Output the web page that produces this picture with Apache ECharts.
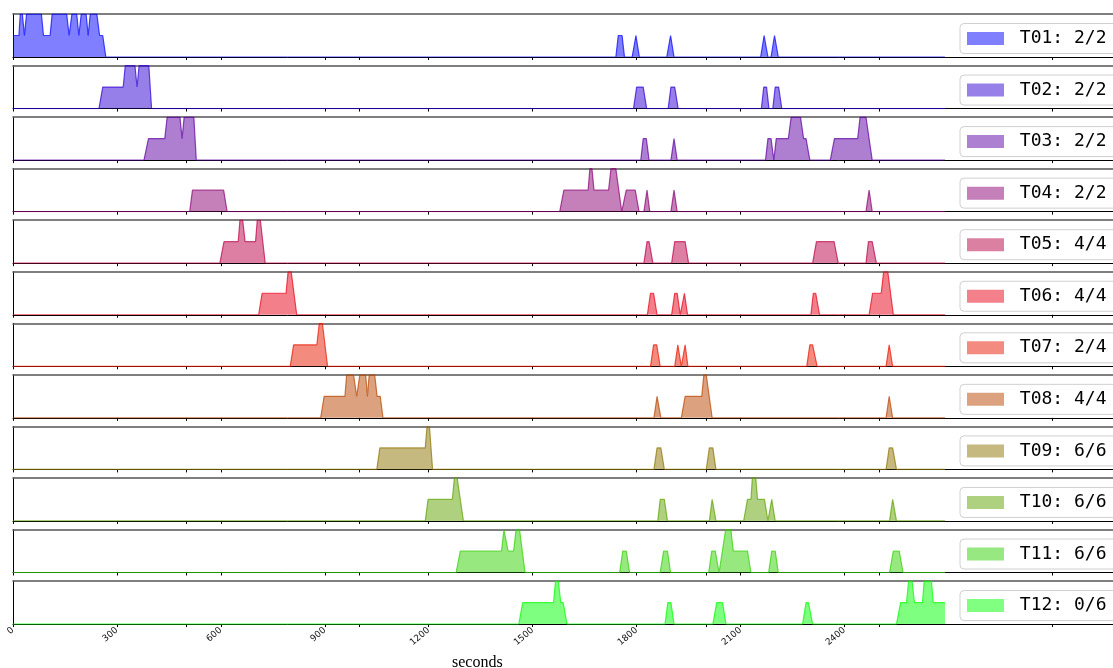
<!DOCTYPE html>
<html>
<head>
<meta charset="utf-8">
<script src="https://cdn.jsdelivr.net/npm/echarts@6/dist/echarts.min.js"></script>
<style>
  html, body { margin: 0; padding: 0; background: #fff; }
  #main { width: 1113px; height: 668px; }
</style>
</head>
<body>
<div id="main"></div>
<script>
// series names as shown in the legends
const names = ['T01: 2/2', 'T02: 2/2', 'T03: 2/2', 'T04: 2/2', 'T05: 4/4', 'T06: 4/4',
  'T07: 2/4', 'T08: 4/4', 'T09: 6/6', 'T10: 6/6', 'T11: 6/6', 'T12: 0/6'];

// x axis tick labels (seconds)
const tickLabels = [0, 300, 600, 900, 1200, 1500, 1800, 2100, 2400];
const tickMarks = [0, 300, 500, 600, 900, 1000, 1200, 1500, 1800, 2000, 2100, 2400, 2500, 3000];

// [seconds, level]
const t01 = [[0,1],[17,1],[21,2],[27,2],[33,1],[39,2],[82,2],[88,1],[107,1],[113,2],[155,2],[162,1],[170,2],[184,2],[190,1],[197,2],[211,2],[217,1],[223,2],[242,2],[250,1],[259,1],[268,0],
  [1740,0],[1747,1],[1758,1],[1765,0],[1787,0],[1798,1],[1808,0],[1887,0],[1898,1],[1908,0],[2158,0],[2168,1],[2179,0],[2188,0],[2198,1],[2209,0],[2690,0]];
const t02 = [[0,0],[248,0],[259,1],[318,1],[324,2],[352,2],[358,1],[364,2],[392,2],[400,0],
  [1791,0],[1800,1],[1819,1],[1829,0],[1891,0],[1899,1],[1910,1],[1920,0],[2160,0],[2167,1],[2175,1],[2182,0],[2193,0],[2200,1],[2210,1],[2219,0],[2690,0]];
const t03 = [[0,0],[378,0],[391,1],[438,1],[445,2],[482,2],[488,1],[494,2],[522,2],[529,0],
  [1812,0],[1819,1],[1828,1],[1836,0],[1899,0],[1908,1],[1917,0],[2172,0],[2179,1],[2188,1],[2196,0],[2203,1],[2238,1],[2246,2],[2273,2],[2282,1],[2289,1],[2300,0],
  [2359,0],[2371,1],[2438,1],[2445,2],[2462,2],[2480,0],[2690,0]];
const t04 = [[0,0],[510,0],[518,1],[608,1],[618,0],[1578,0],[1590,1],[1660,1],[1665,2],[1671,2],[1677,1],[1719,1],[1726,2],[1740,2],[1757,0],[1762,0],[1770,1],[1796,1],[1807,0],
  [1821,0],[1830,1],[1838,0],[1899,0],[1908,1],[1917,0],[2462,0],[2471,1],[2480,0],[2690,0]];
const t05 = [[0,0],[597,0],[609,1],[650,1],[655,2],[663,2],[670,1],[700,1],[705,2],[714,2],[728,0],
  [1821,0],[1830,1],[1836,1],[1847,0],[1901,0],[1910,1],[1940,1],[1950,0],[2308,0],[2319,1],[2370,1],[2382,0],[2462,0],[2469,1],[2480,1],[2492,0],[2690,0]];
const t06 = [[0,0],[709,0],[719,1],[788,1],[794,2],[803,2],[819,0],
  [1831,0],[1840,1],[1849,1],[1859,0],[1901,0],[1910,1],[1917,1],[1926,0],[1931,0],[1938,1],[1947,0],[2303,0],[2310,1],[2317,1],[2328,0],
  [2471,0],[2481,1],[2506,1],[2513,2],[2525,2],[2541,0],[2690,0]];
const t07 = [[0,0],[800,0],[810,1],[877,1],[884,2],[893,2],[908,0],
  [1840,0],[1849,1],[1858,1],[1868,0],[1910,0],[1919,1],[1929,0],[1933,0],[1940,1],[1948,0],[2291,0],[2300,1],[2308,1],[2321,0],[2520,0],[2529,1],[2539,0],[2690,0]];
const t08 = [[0,0],[888,0],[898,1],[958,1],[963,2],[983,2],[992,1],[1001,2],[1018,2],[1023,1],[1028,2],[1044,2],[1051,1],[1060,1],[1068,0],
  [1850,0],[1859,1],[1870,0],[1929,0],[1940,1],[1988,1],[1994,2],[2001,2],[2018,0],[2520,0],[2529,1],[2539,0],[2690,0]];
const t09 = [[0,0],[1050,0],[1059,1],[1190,1],[1195,2],[1202,2],[1211,0],
  [1850,0],[1859,1],[1870,1],[1880,0],[2001,0],[2010,1],[2020,1],[2029,0],[2520,0],[2529,1],[2539,1],[2550,0],[2690,0]];
const t10 = [[0,0],[1190,0],[1198,1],[1268,1],[1274,2],[1282,2],[1300,0],
  [1861,0],[1868,1],[1880,1],[1889,0],[2010,0],[2018,1],[2029,0],[2109,0],[2120,1],[2130,1],[2134,2],[2144,2],[2149,1],[2169,1],[2179,0],[2181,0],[2190,1],[2200,0],
  [2530,0],[2539,1],[2550,0],[2690,0]];
const t11 = [[0,0],[1279,0],[1291,1],[1410,1],[1417,2],[1422,2],[1429,1],[1445,1],[1452,2],[1462,2],[1478,0],
  [1751,0],[1760,1],[1770,1],[1780,0],[1868,0],[1878,1],[1889,1],[1898,0],[2008,0],[2017,1],[2027,1],[2038,0],[2057,2],[2072,2],[2079,1],[2120,1],[2130,0],
  [2181,0],[2190,1],[2200,1],[2209,0],[2530,0],[2541,1],[2558,1],[2569,0],[2690,0]];
const t12 = [[0,0],[1460,0],[1471,1],[1560,1],[1566,2],[1574,2],[1581,1],[1588,1],[1599,0],
  [1882,0],[1890,1],[1899,1],[1908,0],[2020,0],[2031,1],[2048,1],[2058,0],[2279,0],[2289,1],[2296,1],[2308,0],
  [2550,0],[2562,1],[2579,1],[2585,2],[2595,2],[2602,1],[2625,1],[2630,2],[2651,2],[2656,1],[2690,1]];

const allData = [t01, t02, t03, t04, t05, t06, t07, t08, t09, t10, t11, t12];

// brg colormap, blue -> red -> green
const lineColors = ['#0000ff', '#2e00d1', '#5d00a2', '#8b0074', '#b90046', '#e80017',
  '#e81700', '#b94600', '#8b7400', '#5da200', '#2ed100', '#00ff00'];
const fillColors = ['#8080ff', '#9780e8', '#ae80d1', '#c580ba', '#dc80a2', '#f3808b',
  '#f38b80', '#dca280', '#c5b980', '#aed180', '#97e880', '#80ff80'];

const panelTop = 14;
const panelStep = 51.55;
const panelHeight = 43;
const xMax = 3175;   // axis runs past the right edge of the picture

let grids = [], xAxes = [], yAxes = [], series = [], legends = [];
for (let i = 0; i < 12; i++) {
    let top = panelTop + i * panelStep;
    let last = i === 11;
    grids.push({
        left: 13,
        top: top,
        right: 0,
        height: panelHeight,
        show: false,
    });
    // bottom axis with ticks (labels only under the last panel)
    xAxes.push({
        type: 'value',
        gridIndex: i,
        position: 'bottom',
        min: 0,
        max: xMax,
        axisLine: { show: true, lineStyle: { color: '#000', width: 1 } },
        axisTick: {
            show: true,
            length: 3,
            customValues: tickMarks,
            lineStyle: { color: '#000', width: 1 },
        },
        axisLabel: {
            show: last,
            customValues: tickLabels,
            formatter: function (v) { return String(v); },
            rotate: 40,
            fontSize: 9,
            margin: 5,
            color: '#111',
            fontFamily: 'DejaVu Sans',
        },
        splitLine: { show: false },
    });
    // top frame line
    xAxes.push({
        type: 'value',
        gridIndex: i,
        position: 'top',
        min: 0,
        max: xMax,
        axisLine: { show: true, lineStyle: { color: '#555', width: 1.5 } },
        axisTick: { show: false },
        axisLabel: { show: false },
        splitLine: { show: false },
    });
    yAxes.push({
        type: 'value',
        gridIndex: i,
        min: 0,
        max: 2,
        axisLine: { show: true, lineStyle: { color: '#000', width: 1 } },
        axisTick: { show: false },
        axisLabel: { show: false },
        splitLine: { show: false },
    });
    series.push({
        name: names[i],
        type: 'line',
        xAxisIndex: i * 2,
        yAxisIndex: i,
        data: allData[i],
        showSymbol: false,
        symbol: 'none',
        itemStyle: { color: lineColors[i] },
        lineStyle: { color: lineColors[i], width: 1.2, opacity: 0.7 },
        areaStyle: { color: lineColors[i], opacity: 0.5 },
        silent: true,
    });
    legends.push({
        data: [names[i]],
        left: 960,
        top: top + 9.5,
        orient: 'horizontal',
        icon: 'rect',
        itemWidth: 37,
        itemHeight: 13,
        padding: [6, 14, 6, 7],
        backgroundColor: 'rgba(255,255,255,0.85)',
        borderColor: '#d0d0d0',
        borderWidth: 1,
        borderRadius: 4,
        selectedMode: false,
        itemStyle: { color: fillColors[i], borderWidth: 0 },
        formatter: function (name) { return ' ' + name; },
        textStyle: {
            fontFamily: 'DejaVu Sans Mono',
            fontSize: 18,
            color: '#000',
        },
    });
}

const chart = echarts.init(document.getElementById('main'));
chart.setOption({
    animation: false,
    backgroundColor: '#fff',
    grid: grids,
    xAxis: xAxes,
    yAxis: yAxes,
    series: series,
    legend: legends,
    graphic: [{
        type: 'text',
        left: 452,
        top: 655,
        style: {
            text: 'seconds',
            font: '16px "Liberation Serif", "DejaVu Serif", serif',
            fill: '#000',
        },
    }],
});
</script>
</body>
</html>
